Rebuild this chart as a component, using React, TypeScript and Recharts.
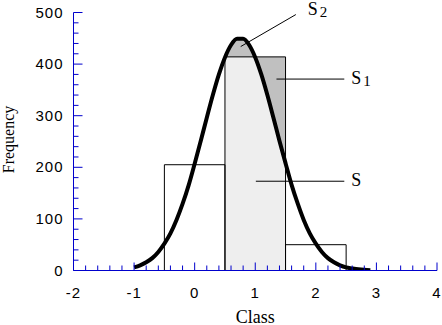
import {
  ComposedChart,
  Area,
  Line,
  XAxis,
  YAxis,
  ReferenceArea,
  ReferenceLine,
} from "recharts";

// histogram bins
const binStart = [-0.5, 0.5, 1.5];
const binEnd = [0.5, 1.5, 2.5];
const binFreq = [205, 414, 50];

// fitted curve, every 0.1
const curveX = [
  -1.0, -0.9, -0.8, -0.7, -0.6, -0.5, -0.4, -0.3, -0.2, -0.1,
  0.0, 0.1, 0.2, 0.3, 0.4, 0.5, 0.6, 0.7, 0.8, 0.9,
  1.0, 1.1, 1.2, 1.3, 1.4, 1.5, 1.6, 1.7, 1.8, 1.9,
  2.0, 2.1, 2.2, 2.3, 2.4, 2.5, 2.6, 2.7, 2.8, 2.9,
];
const curveY = [
  6, 10, 16, 24, 36, 52, 72, 98, 129, 165,
  207, 251, 296, 340, 380, 413, 437, 449, 449, 437,
  413, 380, 340, 296, 251, 208, 166, 130, 98, 72,
  52, 36, 24, 16, 10, 6, 4, 2.3, 1.3, 0.7,
];

const xMajor = [-2, -1, 0, 1, 2, 3, 4];
const yMajor = [0, 100, 200, 300, 400, 500];

// shaded bin (the one split into S, S1, S2)
const shadeBin = 1;

const AXIS = "#0000cc";
const LIGHT = "#eeeeee";
const DARK = "#c0c0c0";

const subdivide = (major: number[], n: number) =>
  major.flatMap((v, i) =>
    i < major.length - 1
      ? Array.from({ length: n }, (_, k) => v + (k * (major[i + 1] - v)) / n)
      : [v]
  );

const xTicks = subdivide(xMajor, 5);
const yTicks = subdivide(yMajor, 5);

const isMajor = (list: number[], v: number) =>
  list.some((m) => Math.abs(m - v) < 1e-6);

const lo0 = binStart[shadeBin];
const hi0 = binEnd[shadeBin];
const top = binFreq[shadeBin];

const data = curveX.map((x, i) => {
  const c = curveY[i];
  const inside = x >= lo0 - 1e-6 && x <= hi0 + 1e-6;
  return {
    x,
    curve: c,
    low: inside ? Math.min(c, top) : null,
    band: inside ? [Math.min(c, top), Math.max(c, top)] : null,
  };
});

const notes = [
  { from: { x: 0.76, y: 434 }, to: { x: 1.67, y: 496 }, main: "S", sub: "2", dx: 12, dy: 0 },
  { from: { x: 1.35, y: 371 }, to: { x: 2.47, y: 371 }, main: "S", sub: "1", dx: 7, dy: 5 },
  { from: { x: 1.01, y: 173 }, to: { x: 2.47, y: 173 }, main: "S", sub: "", dx: 7, dy: 5 },
];

const tickFont = { fontFamily: "Liberation Sans", fontSize: 15, letterSpacing: 1 };
const serif = "Liberation Serif";

function XTick(props: any) {
  const { x, y, payload } = props;
  const major = isMajor(xMajor, payload.value);
  return (
    <g>
      <line x1={x} x2={x} y1={y} y2={y - (major ? 8 : 5)} stroke={AXIS} />
      {major && (
        <text x={x} y={y + 27} textAnchor="middle" fill="#000" {...tickFont}>
          {Math.round(payload.value)}
        </text>
      )}
    </g>
  );
}

function YTick(props: any) {
  const { x, y, payload } = props;
  const major = isMajor(yMajor, payload.value);
  return (
    <g>
      <line x1={x} x2={x + (major ? 9 : 5)} y1={y} y2={y} stroke={AXIS} />
      {major && (
        <text x={x - 10} y={y} dy={5} textAnchor="end" fill="#000" {...tickFont}>
          {Math.round(payload.value)}
        </text>
      )}
    </g>
  );
}

function noteShape(n: (typeof notes)[number]) {
  return (p: any) => (
    <g>
      <line x1={p.x1} y1={p.y1} x2={p.x2} y2={p.y2} stroke="#000" strokeWidth={1} />
      <text x={p.x2 + n.dx} y={p.y2 + n.dy} fontFamily={serif} fontSize={18} fill="#000">
        {n.main}
        {n.sub && (
          <tspan dx={2} dy={2} fontSize={15}>
            {n.sub}
          </tspan>
        )}
      </text>
    </g>
  );
}

export default function App() {
  return (
    <div style={{ position: "absolute", left: 0, top: 0, width: 442, height: 325, background: "#fff" }}>
      <ComposedChart
        width={442}
        height={325}
        data={data}
        margin={{ top: 12.5, right: 5, bottom: 0, left: 0 }}
      >
        <XAxis
          dataKey="x"
          type="number"
          domain={[-2, 4]}
          ticks={xTicks}
          interval={0}
          height={54.5}
          tickLine={false}
          tickSize={0}
          tickMargin={0}
          tick={<XTick />}
          axisLine={{ stroke: AXIS, strokeWidth: 1 }}
          allowDataOverflow
          label={(p: any) => {
            const vb = p.viewBox || { x: 73.5, y: 270.5, width: 363.5 };
            return (
              <text x={vb.x + vb.width / 2} y={vb.y + 52.5} textAnchor="middle" fontFamily={serif} fontSize={18} fill="#000">
                Class
              </text>
            );
          }}
        />
        <YAxis
          type="number"
          domain={[0, 500]}
          ticks={yTicks}
          interval={0}
          width={73.5}
          tickLine={false}
          tickSize={0}
          tickMargin={0}
          tick={<YTick />}
          axisLine={{ stroke: AXIS, strokeWidth: 1 }}
          allowDataOverflow
          label={(p: any) => {
            const vb = p.viewBox || { y: 12.5, height: 258 };
            const cy = vb.y + vb.height / 2 - 2;
            return (
              <text x={14} y={cy} transform={`rotate(-90, 14, ${cy})`} textAnchor="middle" fontFamily={serif} fontSize={16} fill="#000">
                Frequency
              </text>
            );
          }}
        />
        <Area
          dataKey="low"
          type="monotone"
          stroke="none"
          fill={LIGHT}
          fillOpacity={1}
          isAnimationActive={false}
          dot={false}
          activeDot={false}
        />
        <Area
          dataKey="band"
          type="monotone"
          stroke="none"
          fill={DARK}
          fillOpacity={1}
          isAnimationActive={false}
          dot={false}
          activeDot={false}
        />
        {binFreq.map((f, i) => (
          <ReferenceArea
            key={i}
            x1={binStart[i]}
            x2={binEnd[i]}
            y1={0}
            y2={f}
            fill="none"
            fillOpacity={0}
            stroke="#000"
            strokeWidth={1}
          />
        ))}
        <Line
          dataKey="curve"
          type="monotone"
          stroke="#000"
          strokeWidth={4}
          dot={false}
          activeDot={false}
          isAnimationActive={false}
        />
        {notes.map((n, i) => (
          <ReferenceLine key={i} segment={[n.from, n.to]} shape={noteShape(n)} />
        ))}
      </ComposedChart>
    </div>
  );
}
